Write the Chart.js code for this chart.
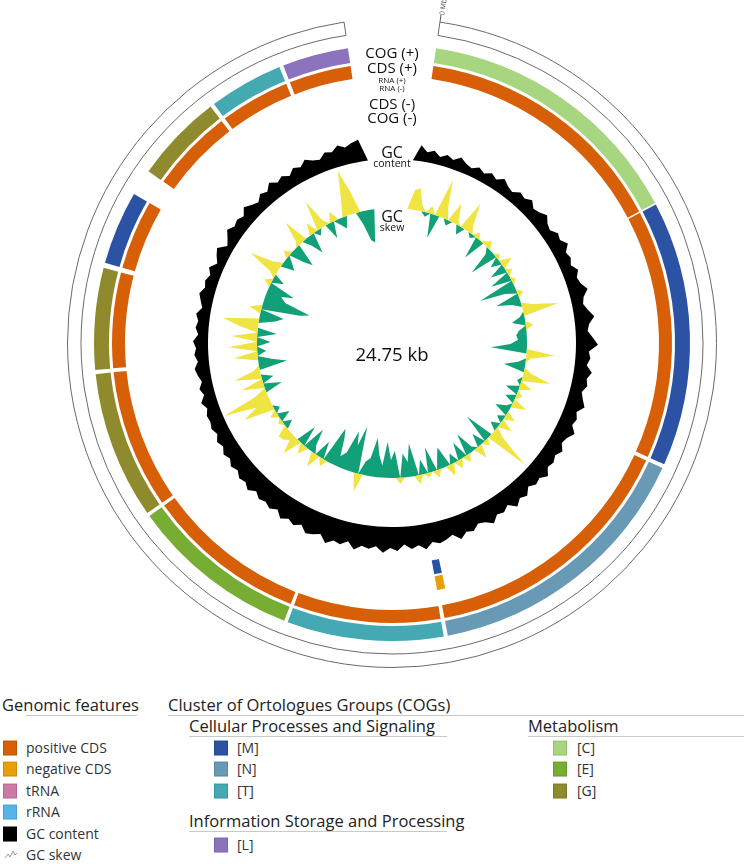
<!DOCTYPE html>
<html>
<head>
<meta charset="utf-8">
<script src="https://cdn.jsdelivr.net/npm/chart.js@4"></script>
<style>
body { margin: 0; background: #fff; font-family: 'Open Sans', sans-serif; }
#wrap { position: relative; width: 744px; height: 864px; overflow: hidden; }
canvas.layer { position: absolute; }
.lbl { position: absolute; transform: translate(-50%, -50%); white-space: nowrap; color: #111; line-height: 1; }
.t { position: absolute; white-space: nowrap; line-height: 20px; height: 20px; transform: translateY(-50%); color: #222; }
.h { font-size: 16.5px; }
.i { font-size: 14px; color: #333; }
.ul { position: absolute; height: 0; border-top: 1.5px solid #c9c9c9; }
.sw { position: absolute; width: 14px; height: 15px; transform: translateY(-50%); box-shadow: inset 0 0 0 1px rgba(0,0,0,0.12); }
</style>
</head>
<body>
<div id="wrap">
  <canvas id="features" class="layer" width="650" height="650" style="left:67px;top:18px"></canvas>
  <canvas id="gcContent" class="layer" width="420" height="420" style="left:182px;top:133px"></canvas>
  <canvas id="gcSkew" class="layer" width="360" height="360" style="left:212px;top:163px"></canvas>

  <div class="lbl" style="left:392px;top:52px;font-size:15px">COG (+)</div>
  <div class="lbl" style="left:392px;top:67px;font-size:15px">CDS (+)</div>
  <div class="lbl" style="left:392px;top:80px;font-size:8px">RNA (+)</div>
  <div class="lbl" style="left:392px;top:88px;font-size:8px">RNA (-)</div>
  <div class="lbl" style="left:392px;top:103px;font-size:15px">CDS (-)</div>
  <div class="lbl" style="left:392px;top:117px;font-size:15px">COG (-)</div>
  <div class="lbl" style="left:392px;top:152px;font-size:16px">GC</div>
  <div class="lbl" style="left:392px;top:163px;font-size:10.5px">content</div>
  <div class="lbl" style="left:392px;top:216px;font-size:16px">GC</div>
  <div class="lbl" style="left:392px;top:227px;font-size:10.5px">skew</div>
  <div class="lbl" style="left:392px;top:354px;font-size:18.5px">24.75 kb</div>
  <div style="position:absolute;left:440px;top:15px;width:0;height:7px;border-left:1px solid #555;transform:rotate(8.5deg)"></div>
  <div class="lbl" style="left:443px;top:7px;font-size:7px;color:#555;transform:translate(-50%,-50%) rotate(-81.5deg)">0 Mb</div>

  <div id="legend"></div>
</div>

<script>
// genome and annotated genes (bp)
const genomeLength = 24750;
const geneStart  = [0,    3882, 7670,  11653, 13905, 16358, 18494, 19995, 21409, 22715, 23819, 11491];
const geneEnd    = [3860, 7613, 11596, 13854, 16308, 18436, 19923, 21034, 22657, 23761, 24750, 11628];
const geneStrand = ['+',  '+',  '+',   '+',   '+',   '+',   '+',   '+',   '+',   '+',   '+',   '-'];
const geneCog    = ['C',  'M',  'N',   'T',   'E',   'G',   'G',   'M',   'G',   'T',   'L',   'M'];

// GC content (%) per 2-degree window, last 8 entries fall in the label gap
const gcContent = [
  42, 39, 40.5, 38, 40, 38.5, 41, 39, 38, 40,
  38.5, 40.5, 39, 41.5, 39.5, 38.5, 41, 40, 42, 39.5,
  40.5, 42.5, 40, 39, 41.5, 40.5, 43, 40, 41, 39.5,
  42, 40, 41, 43.5, 40.5, 39.5, 41.5, 44, 41, 40,
  42.5, 45, 40.5, 41.5, 40, 43, 41, 42, 40, 41.5,
  43.5, 40.5, 42, 41, 44, 41.5, 40.5, 43, 41, 42.5,
  41.5, 44.5, 42, 43, 41, 44, 42.5, 45, 41.5, 43.5,
  42.5, 45.5, 43, 42, 44.5, 43.5, 46, 42.5, 44, 45,
  43.5, 46.5, 44, 45.5, 43, 46, 44.5, 47, 44, 45.5,
  44.5, 47, 43.5, 46, 45, 47.5, 44, 45.5, 46.5, 43.5,
  45.5, 44, 46, 43, 45, 43.5, 44.5, 42.5, 45, 43,
  44, 42, 43.5, 41.5, 43, 41, 42.5, 40.5, 42, 41,
  41.5, 40, 42, 39.5, 41, 39, 40.5, 41.5, 39.5, 41,
  40, 41.5, 39, 40.5, 39.5, 41, 38.5, 40, 41.5, 39.5,
  40.5, 39, 41, 38, 40, 41.5, 37.5, 39.5, 42, 40,
  41, 39.5, 42.5, 40.5, 39, 41.5, 40, 43, 40.5, 42,
  40, 42.5, 41, 43.5, 41.5, 40.5, 43, 42, 44.5, 42.5, 44, 45,
  34, 34, 34, 34, 34, 34, 34, 34
];
const gcBase = 34;

// GC skew per 2-degree window, last 8 entries fall in the label gap
const gcSkew = [
  0.13, 0.15, 0.04, -0.03, 0.05, -0.16, 0.26, 0.08, -0.04, 0.14,
  0.03, -0.06, 0.20, 0.06, -0.03, 0.04, -0.15, 0.02, 0.05, -0.04,
  -0.19, 0.03, -0.07, 0.08, -0.11, 0.04, -0.14, 0.03, -0.25, -0.08,
  0.04, -0.16, -0.06, 0.07, 0.24, -0.03, -0.09, 0.05, -0.05, -0.07,
  -0.06, -0.11, -0.24, 0.19, 0.03, -0.05, -0.14, 0.05, 0.19, -0.03,
  0.08, -0.09, 0.04, -0.07, 0.10, -0.03, -0.10, 0.07, -0.05, 0.09,
  -0.06, 0.07, 0.30, -0.20, 0.04, -0.09, 0.09, -0.03, -0.15, 0.05,
  -0.12, 0.06, -0.07, 0.08, -0.14, -0.08, 0.05, -0.17, 0.03, -0.10,
  0.06, -0.22, -0.10, -0.16, 0.04, -0.18, -0.12, -0.24, -0.08, -0.15,
  -0.26, -0.12, -0.09, 0.12, -0.32, -0.18, -0.27, -0.11, -0.07, -0.19,
  -0.25, 0.05, -0.12, 0.10, -0.05, -0.16, 0.07, -0.14, 0.13, 0.04,
  0.07, 0.08, -0.06, 0.03, -0.08, 0.05, -0.04, 0.21, 0.10, 0.32,
  0.08, -0.12, 0.15, -0.08, 0.18, 0.04, -0.19, -0.09, 0.16, -0.06,
  0.19, -0.09, 0.17, -0.13, 0.13, 0.24, -0.11, -0.16, 0.08, -0.26,
  -0.32, -0.14, -0.10, -0.18, 0.05, -0.08, 0.04, 0.22, 0.06, -0.09,
  -0.05, 0.05, -0.10, -0.16, 0.03, 0.17, -0.06, -0.14, 0.08, -0.04,
  0.20, 0.04, -0.11, 0.07, -0.04, -0.08, 0.12, 0.30, 0.15, -0.09, -0.20, -0.22,
  0, 0, 0, 0, 0, 0, 0, 0
];

const cdsColors = { '+': '#d75f07', '-': '#e99f0c' };
const cogColors = { C: '#a7d580', E: '#78ad33', G: '#8e8a2d', M: '#2b52a3', N: '#6899b5', T: '#45a9b3', L: '#8b74bd' };
const skewColors = { pos: '#f0e442', neg: '#11a077' };

const mapStart = 8.5;     // degrees, where 0 bp sits
const mapSpan = 343;      // degrees used by the genome
const clear = 'rgba(0,0,0,0)';

function ringData(strand, colorOf) {
  const idx = geneStart.map((s, i) => i).filter(i => geneStrand[i] === strand).sort((a, b) => geneStart[a] - geneStart[b]);
  const data = [], colors = [];
  let pos = 0;
  idx.forEach(i => {
    data.push(geneStart[i] - pos); colors.push(clear);
    data.push(geneEnd[i] - geneStart[i]); colors.push(colorOf(i));
    pos = geneEnd[i];
  });
  data.push(genomeLength - pos); colors.push(clear);
  return { data, colors };
}

function track(strand, colorOf, weight) {
  const r = ringData(strand, colorOf);
  return { data: r.data, backgroundColor: r.colors, borderWidth: 0, weight,
    rotation: mapStart, circumference: mapSpan, hoverOffset: 0, offset: 0 };
}
function spacer(weight) {
  return { data: [1], backgroundColor: [clear], borderWidth: 0, weight, rotation: 0, circumference: 360, hoverOffset: 0, offset: 0 };
}

const common = {
  responsive: false,
  animation: false,
  events: [],
  layout: { padding: 0 },
  plugins: { legend: { display: false }, tooltip: { enabled: false }, title: { display: false } }
};

new Chart(document.getElementById('features'), {
  type: 'doughnut',
  data: {
    datasets: [
      { data: [genomeLength], backgroundColor: ['#fff'], borderColor: '#6a6a6a', borderWidth: 1, hoverBorderWidth: 1,
        weight: 13.5, rotation: mapStart, circumference: mapSpan, hoverOffset: 0, offset: 0 },
      spacer(13),
      track('+', i => cogColors[geneCog[i]], 15),
      spacer(3),
      track('+', () => cdsColors['+'], 13),
      spacer(16),
      track('-', () => cdsColors['-'], 14),
      spacer(2),
      track('-', i => cogColors[geneCog[i]], 14)
    ]
  },
  options: Object.assign({ cutout: 221 }, common)
});

const windowLabels = gcContent.map((v, i) => String(i));
const radialScale = (min, max) => ({
  r: { min, max, startAngle: mapStart, beginAtZero: false,
    ticks: { display: false }, grid: { display: false }, angleLines: { display: false }, pointLabels: { display: false } }
});

new Chart(document.getElementById('gcContent'), {
  type: 'radar',
  data: {
    labels: windowLabels,
    datasets: [{ data: gcContent, fill: { value: gcBase }, backgroundColor: '#000', borderColor: clear, borderWidth: 0, pointRadius: 0 }]
  },
  options: Object.assign({ scales: radialScale(-58, 47) }, common)
});

new Chart(document.getElementById('gcSkew'), {
  type: 'radar',
  data: {
    labels: windowLabels,
    datasets: [
      { data: gcSkew.map(v => Math.max(v, 0)), fill: { value: 0 }, backgroundColor: skewColors.pos, borderColor: clear, borderWidth: 0, pointRadius: 0 },
      { data: gcSkew.map(v => Math.min(v, 0)), fill: { value: 0 }, backgroundColor: skewColors.neg, borderColor: clear, borderWidth: 0, pointRadius: 0 }
    ]
  },
  options: Object.assign({ scales: radialScale(-0.9, 0.3) }, common)
});

// legend
const legendRows = [705, 726, 748, 769, 791, 812, 834, 855];
const featureNames = ['positive CDS', 'negative CDS', 'tRNA', 'rRNA', 'GC content'];
const featureColors = [cdsColors['+'], cdsColors['-'], '#cc79a7', '#56b4e9', '#000'];
const cellularCogs = ['M', 'N', 'T'];
const metabolismCogs = ['C', 'E', 'G'];
const infoCogs = ['L'];

const lg = document.getElementById('legend');
function add(html) { lg.insertAdjacentHTML('beforeend', html); }
function text(x, y, s, cls) { add(`<div class="t ${cls}" style="left:${x}px;top:${y}px">${s}</div>`); }
function swatch(x, y, c) { add(`<div class="sw" style="left:${x}px;top:${y}px;background:${c}"></div>`); }
function underline(x1, x2, y) { add(`<div class="ul" style="left:${x1}px;top:${y}px;width:${x2 - x1}px"></div>`); }

text(2, legendRows[0], 'Genomic features', 'h');
underline(26, 137, legendRows[0] + 10);
featureNames.forEach((n, k) => {
  swatch(3, legendRows[2 + k], featureColors[k]);
  text(26, legendRows[2 + k], n, 'i');
});
add(`<svg style="position:absolute;left:4px;top:${legendRows[7] - 6}px" width="14" height="12"><polyline points="1,9 4,5 6,8 9,2 11,6 13,4" fill="none" stroke="#999" stroke-width="1"/></svg>`);
text(26, legendRows[7], 'GC skew', 'i');

text(168, legendRows[0], 'Cluster of Ortologues Groups (COGs)', 'h');
underline(168, 744, legendRows[0] + 10);
text(189, legendRows[1], 'Cellular Processes and Signaling', 'h');
underline(189, 447, legendRows[1] + 10);
cellularCogs.forEach((c, k) => {
  swatch(214, legendRows[2 + k], cogColors[c]);
  text(237, legendRows[2 + k], '[' + c + ']', 'i');
});
text(528, legendRows[1], 'Metabolism', 'h');
underline(528, 744, legendRows[1] + 10);
metabolismCogs.forEach((c, k) => {
  swatch(553, legendRows[2 + k], cogColors[c]);
  text(577, legendRows[2 + k], '[' + c + ']', 'i');
});
text(189, 821, 'Information Storage and Processing', 'h');
underline(189, 447, 831);
infoCogs.forEach((c, k) => {
  swatch(214, 845, cogColors[c]);
  text(237, 845, '[' + c + ']', 'i');
});
</script>
</body>
</html>
